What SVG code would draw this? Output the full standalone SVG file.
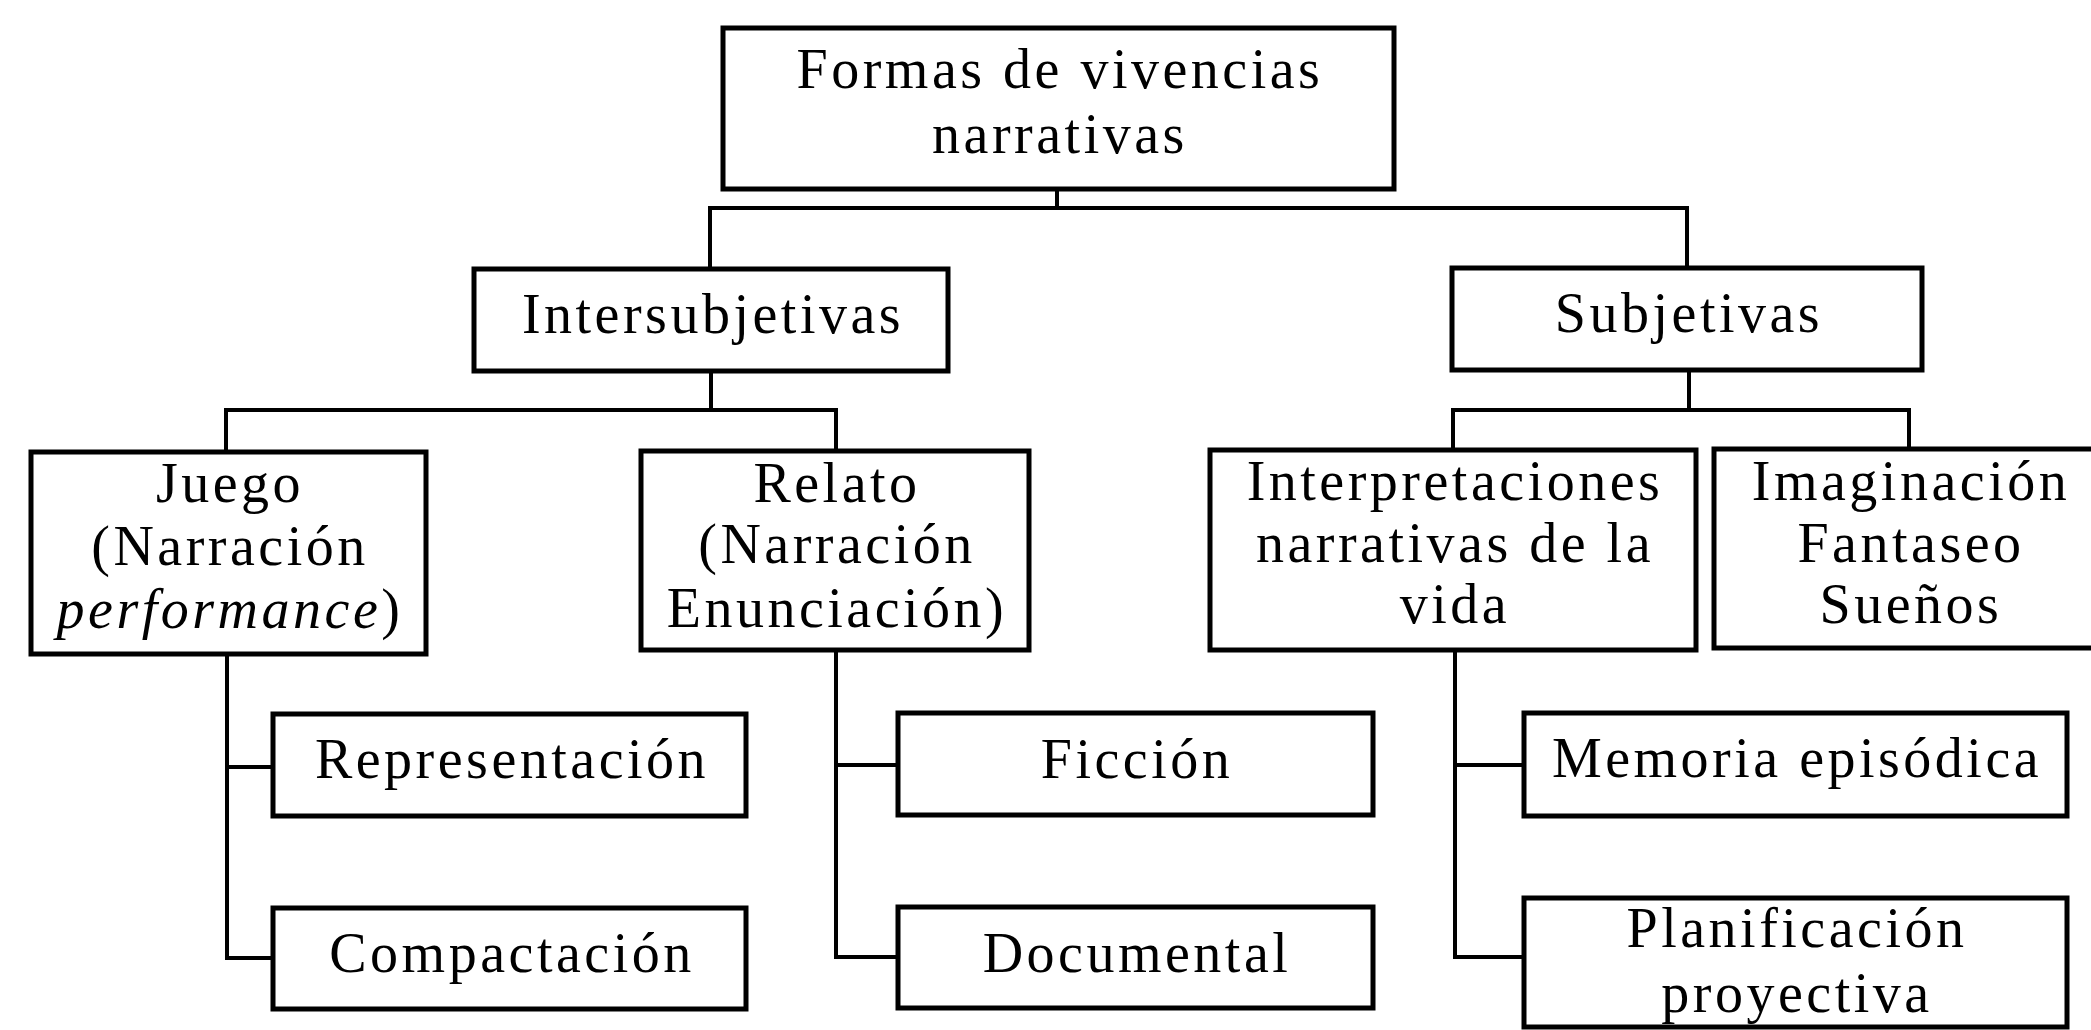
<svg xmlns="http://www.w3.org/2000/svg" width="2091" height="1030" viewBox="0 0 2091 1030">
<style>
.box{fill:#fff;stroke:#000;stroke-width:5}
.t{font-family:"Liberation Serif","Times New Roman",serif;font-size:56px;letter-spacing:3.5px;fill:#000;text-anchor:middle}
.c{fill:none;stroke:#000;stroke-width:4;stroke-linecap:square}
</style>
<rect width="2091" height="1030" fill="#fff"/>
<g id="connectors">
<path class="c" d="M1057,189 V208 M710,269 V208 H1687 V268"/>
<path class="c" d="M711,371 V410 M226,452 V410 H836 V451"/>
<path class="c" d="M1689,370 V410 M1453,450 V410 H1909 V449"/>
<path class="c" d="M227,654 V958 H273 M227,767 H273"/>
<path class="c" d="M836,650 V957 H898 M836,765 H898"/>
<path class="c" d="M1455,650 V957 H1524 M1455,765 H1524"/>
</g>
<g id="formas"><rect class="box" x="723" y="28" width="671" height="161"/><text class="t" x="1060" y="88">Formas de vivencias</text><text class="t" x="1060" y="153">narrativas</text></g>
<g id="intersubjetivas"><rect class="box" x="474" y="269" width="474" height="102"/><text class="t" x="713" y="333">Intersubjetivas</text></g>
<g id="subjetivas"><rect class="box" x="1452" y="268" width="470" height="102"/><text class="t" x="1689" y="332">Subjetivas</text></g>
<g id="juego"><rect class="box" x="31" y="452" width="395" height="202"/><text class="t" x="230" y="502">Juego</text><text class="t" x="230" y="565">(Narración</text><text class="t" x="230" y="628"><tspan font-style="italic">performance</tspan>)</text></g>
<g id="relato"><rect class="box" x="641" y="451" width="388" height="199"/><text class="t" x="837" y="502">Relato</text><text class="t" x="837" y="563">(Narración</text><text class="t" x="837" y="627">Enunciación)</text></g>
<g id="interpretaciones"><rect class="box" x="1210" y="450" width="486" height="200"/><text class="t" x="1455" y="500">Interpretaciones</text><text class="t" x="1455" y="562">narrativas de la</text><text class="t" x="1455" y="623">vida</text></g>
<g id="imaginacion"><rect class="box" x="1714" y="449" width="390" height="199"/><text class="t" x="1911" y="500">Imaginación</text><text class="t" x="1911" y="562">Fantaseo</text><text class="t" x="1911" y="623">Sueños</text></g>
<g id="representacion"><rect class="box" x="273" y="714" width="473" height="102"/><text class="t" x="512" y="778">Representación</text></g>
<g id="compactacion"><rect class="box" x="273" y="908" width="473" height="101"/><text class="t" x="512" y="972">Compactación</text></g>
<g id="ficcion"><rect class="box" x="898" y="713" width="475" height="102"/><text class="t" x="1137" y="778">Ficción</text></g>
<g id="documental"><rect class="box" x="898" y="907" width="475" height="101"/><text class="t" x="1137" y="972">Documental</text></g>
<g id="memoria"><rect class="box" x="1524" y="713" width="543" height="103"/><text class="t" x="1797" y="777">Memoria episódica</text></g>
<g id="planificacion"><rect class="box" x="1524" y="898" width="543" height="129"/><text class="t" x="1797" y="947">Planificación</text><text class="t" x="1797" y="1012">proyectiva</text></g>
</svg>
